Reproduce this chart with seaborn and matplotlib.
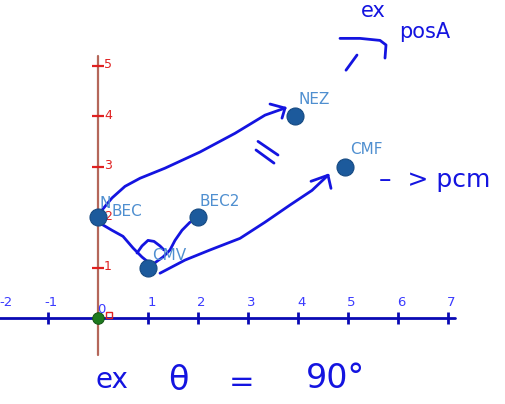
import matplotlib
matplotlib.use("Agg")
import matplotlib.pyplot as plt
import seaborn as sns
import pandas as pd

# ---- data ----
point_names = ["N", "BEC2", "CMV", "NEZ", "CMF"]
point_x = [0.0, 2.0, 1.0, 3.95, 4.95]
point_y = [2.0, 2.0, 1.0, 4.0, 3.0]
label_texts = ["N", "BEC", "BEC2", "CMV", "NEZ", "CMF"]
label_x = [0.04, 0.28, 2.04, 1.08, 4.02, 5.04]
label_y = [2.28, 2.12, 2.30, 1.25, 4.32, 3.33]
x_ticks = [-2, -1, 0, 1, 2, 3, 4, 5, 6, 7]
y_ticks = [1, 2, 3, 4, 5]

# hand-drawn annotation strokes (data coordinates)
strokes = {
    "n_to_nez": ([0.08, 0.28, 0.54, 0.84, 1.34, 2.04, 2.74, 3.34, 3.74],
                 [2.14, 2.38, 2.61, 2.77, 2.97, 3.29, 3.66, 4.02, 4.16]),
    "head1a": ([3.44, 3.74], [4.24, 4.16]),
    "head1b": ([3.68, 3.74], [3.96, 4.16]),
    "n_to_cmv": ([0.04, 0.28, 0.50, 0.70, 0.88, 0.98],
                 [1.88, 1.74, 1.62, 1.39, 1.21, 1.13]),
    "squiggle": ([0.78, 0.88, 1.00, 1.12, 1.24, 1.32],
                 [1.29, 1.43, 1.54, 1.52, 1.43, 1.35]),
    "cmv_to_bec2": ([1.10, 1.30, 1.44, 1.54, 1.68, 1.84],
                    [1.07, 1.21, 1.35, 1.54, 1.74, 1.90]),
    "cmv_to_cmf": ([1.24, 1.74, 2.24, 2.84, 3.34, 3.84, 4.28, 4.60],
                   [0.89, 1.15, 1.35, 1.58, 1.90, 2.24, 2.53, 2.83]),
    "head2a": ([4.26, 4.60], [2.71, 2.83]),
    "head2b": ([4.66, 4.60], [2.57, 2.83]),
    "eq1": ([3.20, 3.60], [3.50, 3.23]),
    "eq2": ([3.16, 3.52], [3.33, 3.07]),
    "corner": ([4.84, 5.24, 5.64, 5.76, 5.74], [5.54, 5.54, 5.50, 5.41, 5.15]),
    "tick": ([4.96, 5.18], [4.91, 5.21]),
}
notes = [("ex", 5.50, 6.08, 15), ("posA", 6.54, 5.66, 15),
         ("–  > pcm", 6.74, 2.73, 18),
         ("ex", 0.28, -1.23, 20), ("θ", 1.60, -1.23, 24),
         ("=", 2.88, -1.27, 22), ("90°", 4.74, -1.19, 24)]

# ---- figure ----
sns.set_style("white")
plt.rcParams["font.family"] = ["DejaVu Sans"]
fig = plt.figure(figsize=(5.06, 4.04), dpi=100)
ax = fig.add_axes([0, 0, 1, 1])

ink = "#1414e0"
# axes
ax.plot([-2.0, 7.14], [0, 0], color="#0a0ab4", lw=2, zorder=2)
ax.plot([0, 0], [-0.73, 5.2], color="#b5675a", lw=1.6, zorder=2)
xt = [t for t in x_ticks if t != 0]
ax.plot(xt, [0] * len(xt), ls="none", marker="|", ms=9, mew=2, color="#0a0ab4", zorder=3)
ax.plot([0] * len(y_ticks), y_ticks, ls="none", marker="_", ms=9, mew=1.6, color="#e02020", zorder=3)
for t in x_ticks:
    if t == 0:
        tx, ty = 0.06, 0.18
    elif t == -2:
        tx, ty = -1.84, 0.30
    else:
        tx, ty = t + 0.07, 0.31
    ax.text(tx, ty, str(t), color="#3a3aff", fontsize=9.5, ha="center", va="center")
for t in y_ticks:
    ax.text(0.12, t + 0.02, str(t), color="#e02020", fontsize=9, ha="left", va="center")

# strokes
for name, (sx, sy) in strokes.items():
    ax.plot(sx, sy, color=ink, lw=2, solid_capstyle="round", zorder=4)

# points
df = pd.DataFrame({"name": point_names, "x": point_x, "y": point_y})
sns.scatterplot(data=df, x="x", y="y", s=150, color="#1c5a9c",
                edgecolor="#164a82", linewidth=0.8, ax=ax, zorder=5, legend=False)
sns.scatterplot(x=[0.0], y=[0.0], s=70, color="#1e7a1e", edgecolor="#125212",
                ax=ax, zorder=5, legend=False)
ax.plot([0.22], [0.06], marker="s", ms=5, mfc="none", mec="#e02020", zorder=4)
ax.set_xlim(-1.96, 8.16)
ax.set_ylim(-1.70, 6.30)
ax.axis("off")

for t, x, y in zip(label_texts, label_x, label_y):
    ax.text(x, y, t, color="#4f8fd0", fontsize=11, ha="left", va="center", zorder=6)

for t, x, y, fs in notes:
    ax.text(x, y, t, color=ink, fontsize=fs, ha="center", va="center", zorder=6)

fig.savefig("out.png", dpi=100)
